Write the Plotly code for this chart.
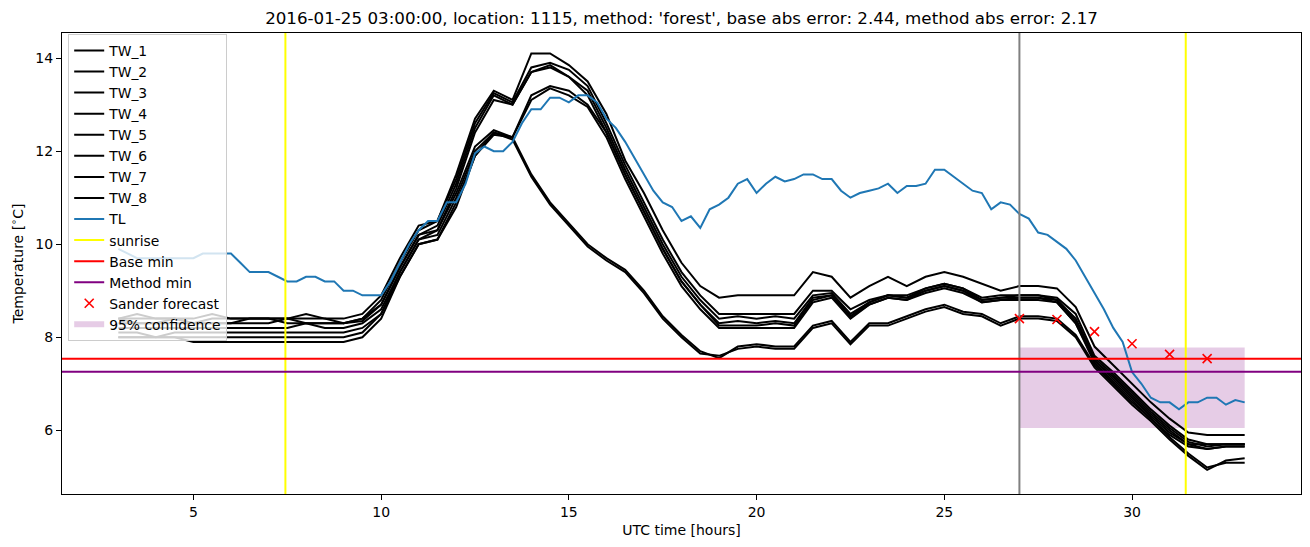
import numpy as np
import plotly.graph_objects as go

# ---------------- data ----------------
tw_hours = np.arange(3.0, 33.0 + 0.001, 0.5)      # 61 points
tl_hours = np.arange(3.0, 33.0 + 0.001, 0.25)     # 121 points

TW_1 = [8.4, 8.5, 8.4, 8.4, 8.4, 8.5, 8.4, 8.4, 8.4, 8.4,
        8.5, 8.4, 8.4, 8.5, 8.9, 9.7, 10.4, 10.5, 11.5, 12.7,
        13.3, 13.1, 14.1, 14.1, 13.85, 13.5, 12.8, 11.8, 11.1, 10.3,
        9.6, 9.1, 8.85, 8.9, 8.9, 8.9, 8.9, 9.4, 9.3, 8.85,
        9.1, 9.3, 9.1, 9.3, 9.4, 9.3, 9.15, 9.0, 9.1, 9.1,
        9.05, 8.65, 7.8, 7.4, 7.0, 6.6, 6.25, 5.95, 5.9, 5.9,
        5.9]
TW_2 = [8.4, 8.4, 8.4, 8.4, 8.3, 8.4, 8.4, 8.4, 8.4, 8.4,
        8.4, 8.4, 8.3, 8.4, 8.8, 9.6, 10.3, 10.5, 11.4, 12.6,
        13.25, 13.05, 13.8, 13.9, 13.75, 13.4, 12.6, 11.7, 10.9, 10.1,
        9.4, 8.9, 8.5, 8.5, 8.5, 8.5, 8.5, 9.0, 9.0, 8.6,
        8.8, 8.9, 8.9, 9.05, 9.15, 9.05, 8.85, 8.9, 8.9, 8.9,
        8.85, 8.5, 7.6, 7.25, 6.85, 6.45, 6.1, 5.8, 5.7, 5.7,
        5.7]
TW_3 = [8.3, 8.3, 8.3, 8.4, 8.3, 8.3, 8.3, 8.3, 8.3, 8.4,
        8.3, 8.3, 8.3, 8.4, 8.7, 9.5, 10.2, 10.4, 11.3, 12.5,
        13.2, 13.0, 13.7, 13.85, 13.6, 13.3, 12.5, 11.6, 10.8, 10.0,
        9.3, 8.8, 8.4, 8.45, 8.4, 8.45, 8.4, 8.9, 8.95, 8.5,
        8.75, 8.9, 8.85, 9.0, 9.1, 9.0, 8.8, 8.85, 8.85, 8.85,
        8.8, 8.4, 7.55, 7.2, 6.8, 6.4, 6.05, 5.75, 5.65, 5.7,
        5.7]
TW_4 = [8.2, 8.2, 8.2, 8.2, 8.2, 8.2, 8.2, 8.2, 8.2, 8.2,
        8.3, 8.2, 8.2, 8.3, 8.6, 9.4, 10.1, 10.3, 11.2, 12.4,
        13.1, 13.0, 13.7, 13.8, 13.6, 13.2, 12.4, 11.5, 10.7, 9.9,
        9.2, 8.7, 8.3, 8.35, 8.3, 8.35, 8.3, 8.85, 8.9, 8.45,
        8.7, 8.85, 8.8, 8.95, 9.05, 8.95, 8.75, 8.8, 8.8, 8.8,
        8.75, 8.3, 7.5, 7.15, 6.75, 6.35, 6.0, 5.7, 5.6, 5.65,
        5.65]
TW_5 = [8.1, 8.1, 8.0, 8.1, 8.1, 8.1, 8.1, 8.1, 8.1, 8.1,
        8.1, 8.1, 8.1, 8.2, 8.5, 9.4, 10.1, 10.2, 11.0, 12.0,
        12.4, 12.3, 13.2, 13.4, 13.3, 13.0, 12.4, 11.5, 10.7, 9.9,
        9.2, 8.7, 8.25, 8.25, 8.25, 8.3, 8.25, 8.8, 8.9, 8.45,
        8.75, 8.9, 8.85, 9.05, 9.15, 9.05, 8.8, 8.85, 8.9, 8.9,
        8.8, 8.35, 7.5, 7.1, 6.7, 6.3, 5.95, 5.7, 5.7, 5.7,
        5.7]
TW_6 = [8.0, 8.0, 8.0, 8.0, 7.9, 7.9, 7.9, 7.9, 7.9, 7.9,
        7.9, 7.9, 7.9, 8.0, 8.4, 9.3, 10.0, 10.1, 10.9, 11.9,
        12.35, 12.3, 13.1, 13.35, 13.2, 12.95, 12.3, 11.4, 10.6, 9.8,
        9.1, 8.6, 8.2, 8.2, 8.2, 8.2, 8.2, 8.75, 8.85, 8.4,
        8.7, 8.85, 8.8, 9.0, 9.1, 9.0, 8.75, 8.8, 8.85, 8.85,
        8.75, 8.3, 7.45, 7.05, 6.65, 6.25, 5.9, 5.65, 5.6, 5.65,
        5.65]
TW_7 = [8.4, 8.3, 8.3, 8.3, 8.3, 8.3, 8.3, 8.4, 8.4, 8.3,
        8.3, 8.3, 8.3, 8.35, 8.7, 9.5, 10.2, 10.3, 11.1, 12.1,
        12.45, 12.3, 11.5, 10.9, 10.45, 10.0, 9.7, 9.45, 9.0, 8.45,
        8.05, 7.7, 7.55, 7.8, 7.85, 7.8, 7.8, 8.25, 8.35, 7.9,
        8.3, 8.3, 8.45, 8.6, 8.7, 8.55, 8.5, 8.3, 8.45, 8.45,
        8.4, 8.05, 7.4, 7.0, 6.6, 6.25, 5.85, 5.5, 5.2, 5.3,
        5.3]
TW_8 = [8.0, 8.0, 8.0, 8.0, 8.0, 8.0, 8.0, 8.0, 8.0, 8.0,
        8.0, 8.0, 8.0, 8.1, 8.5, 9.3, 10.0, 10.1, 10.8, 11.9,
        12.4, 12.25, 11.45, 10.85, 10.4, 9.95, 9.65, 9.4, 8.95, 8.4,
        8.0, 7.65, 7.6, 7.75, 7.8, 7.75, 7.75, 8.2, 8.3, 7.85,
        8.25, 8.25, 8.4, 8.55, 8.65, 8.5, 8.45, 8.25, 8.4, 8.4,
        8.35, 8.0, 7.35, 6.95, 6.55, 6.2, 5.8, 5.45, 5.15, 5.35,
        5.4]

TL = [9.9, 9.8, 9.7, 9.7,
      9.7, 9.7, 9.7, 9.7,
      9.7, 9.8, 9.8, 9.8,
      9.8, 9.6, 9.4, 9.4,
      9.4, 9.3, 9.2, 9.2,
      9.3, 9.3, 9.2, 9.2,
      9.0, 9.0, 8.9, 8.9,
      8.9, 9.2, 9.6, 10.0,
      10.3, 10.5, 10.5, 10.9,
      10.9, 11.3, 11.95, 12.1,
      12.0, 12.0, 12.2, 12.6,
      12.9, 12.9, 13.15, 13.15,
      13.05, 13.2, 13.2, 13.05,
      12.7, 12.5, 12.2, 11.85,
      11.5, 11.15, 10.9, 10.8,
      10.5, 10.6, 10.35, 10.75,
      10.85, 11.0, 11.3, 11.4,
      11.1, 11.3, 11.45, 11.35,
      11.4, 11.5, 11.5, 11.4,
      11.4, 11.15, 11.0, 11.1,
      11.15, 11.2, 11.3, 11.1,
      11.25, 11.25, 11.3, 11.6,
      11.6, 11.45, 11.3, 11.15,
      11.1, 10.75, 10.9, 10.85,
      10.65, 10.55, 10.25, 10.2,
      10.05, 9.9, 9.65, 9.3,
      8.95, 8.6, 8.2, 7.9,
      7.25, 7.0, 6.7, 6.6,
      6.6, 6.45, 6.6, 6.6,
      6.7, 6.7, 6.55, 6.65,
      6.6]

sunrise_hours = [7.45, 31.43]
forecast_start = 27.0
base_min = 7.54
method_min = 7.26
sander_hours = [27, 28, 29, 30, 31, 32]
sander_values = [8.40, 8.38, 8.12, 7.86, 7.63, 7.54]
conf_hours = [27.0, 33.0]
conf_lower = 6.05
conf_upper = 7.78

X_RANGE = [1.5, 34.5]
Y_RANGE = [4.63, 14.54]

title = ("2016-01-25 03:00:00, location: 1115, method: 'forest', "
         "base abs error: 2.44, method abs error: 2.17")

FONT = "DejaVu Sans"

# ---------------- figure ----------------
fig = go.Figure()

# 95% confidence band (drawn first, below lines)
fig.add_trace(go.Scatter(
    x=[conf_hours[0], conf_hours[1], conf_hours[1], conf_hours[0], conf_hours[0]],
    y=[conf_lower, conf_lower, conf_upper, conf_upper, conf_lower],
    fill="toself", fillcolor="rgba(128,0,128,0.2)", mode="none",
    name="95% confidence", legendrank=14, hoverinfo="skip"))

tw_all = [TW_1, TW_2, TW_3, TW_4, TW_5, TW_6, TW_7, TW_8]
for k, vals in enumerate(tw_all):
    fig.add_trace(go.Scatter(
        x=tw_hours, y=vals, mode="lines", name=f"TW_{k+1}",
        line=dict(color="black", width=2), legendrank=k + 1))

fig.add_trace(go.Scatter(
    x=tl_hours, y=TL, mode="lines", name="TL",
    line=dict(color="#1f77b4", width=2), legendrank=9))

# sunrise vertical lines
sx, sy = [], []
for h in sunrise_hours:
    sx += [h, h, None]
    sy += [Y_RANGE[0], Y_RANGE[1], None]
fig.add_trace(go.Scatter(
    x=sx, y=sy, mode="lines", name="sunrise",
    line=dict(color="#ffff00", width=2), legendrank=10))

# forecast start (no legend)
fig.add_trace(go.Scatter(
    x=[forecast_start, forecast_start], y=Y_RANGE, mode="lines",
    line=dict(color="#808080", width=2), showlegend=False))

fig.add_trace(go.Scatter(
    x=X_RANGE, y=[base_min, base_min], mode="lines", name="Base min",
    line=dict(color="#ff0000", width=2), legendrank=11))
fig.add_trace(go.Scatter(
    x=X_RANGE, y=[method_min, method_min], mode="lines", name="Method min",
    line=dict(color="#800080", width=2), legendrank=12))

fig.add_trace(go.Scatter(
    x=sander_hours, y=sander_values, mode="markers", name="Sander forecast",
    marker=dict(symbol="x-thin", size=9, color="#ff0000",
                line=dict(color="#ff0000", width=1.6)),
    legendrank=13))

fig.update_layout(
    width=1310, height=547,
    margin=dict(l=62, r=9, t=33, b=53),
    paper_bgcolor="white", plot_bgcolor="white",
    font=dict(family=FONT, size=14, color="black"),
    title=dict(text=title, x=(62 + 1301) / 2 / 1310, xanchor="center",
               y=1 - 18 / 547, yanchor="middle",
               font=dict(family=FONT, size=16.7, color="black")),
    showlegend=True,
    legend=dict(x=0.005, y=0.998, xanchor="left", yanchor="top",
                bgcolor="rgba(255,255,255,0.8)", bordercolor="#cccccc",
                borderwidth=1, font=dict(family=FONT, size=13.9, color="black"),
                traceorder="normal"),
)

fig.update_xaxes(
    range=X_RANGE, tickmode="array", tickvals=[5, 10, 15, 20, 25, 30],
    ticks="outside", ticklen=5, tickwidth=1, tickcolor="black",
    showline=True, linecolor="black", linewidth=1, mirror=True,
    showgrid=False, zeroline=False,
    tickfont=dict(family=FONT, size=14, color="black"),
    title=dict(text="UTC time [hours]", font=dict(family=FONT, size=14), standoff=6))

fig.update_yaxes(
    range=Y_RANGE, tickmode="array", tickvals=[6, 8, 10, 12, 14],
    ticks="outside", ticklen=5, tickwidth=1, tickcolor="black",
    showline=True, linecolor="black", linewidth=1, mirror=True,
    showgrid=False, zeroline=False,
    tickfont=dict(family=FONT, size=14, color="black"),
    title=dict(text="Temperature [<sup>∘</sup>C]", font=dict(family=FONT, size=14), standoff=8))

fig.write_html("out.html")
